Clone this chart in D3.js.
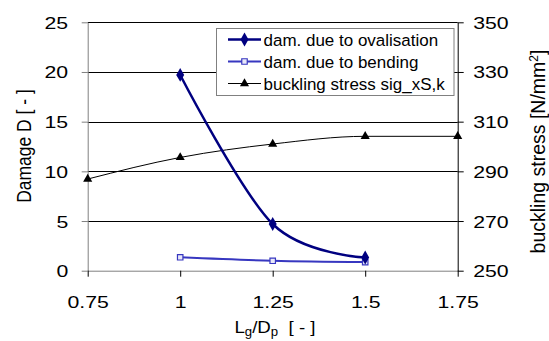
<!DOCTYPE html>
<html><head><meta charset="utf-8">
<script src="https://cdn.jsdelivr.net/npm/d3@7/dist/d3.min.js"></script>
<style>
html,body{margin:0;padding:0;background:#fff;}
svg{display:block;font-family:"Liberation Sans",Arial,sans-serif;}
</style></head>
<body><svg id="c" width="549" height="341"></svg>
<script>
// ---- data ----
const xTicks = [0.75, 1, 1.25, 1.5, 1.75];
const xTickLabels = ["0.75", "1", "1.25", "1.5", "1.75"];
const yLeftTicks = [0, 5, 10, 15, 20, 25];
const yRightTicks = [250, 270, 290, 310, 330, 350];
const ovalX = [1, 1.25, 1.5];
const ovalD = [19.7, 4.7, 1.33];
const bendX = [1, 1.25, 1.5];
const bendD = [1.35, 1.0, 0.87];
const buckX = [0.75, 1, 1.25, 1.5, 1.75];
const buckS = [286.9, 295.6, 301.0, 304.1, 304.1];
const seriesNames = ["dam. due to ovalisation", "dam. due to bending", "buckling stress sig_xS,k"];

// ---- layout ----
const L = 87.7, R = 457.7, T = 22.3, B = 270.7;
const svg = d3.select("#c");
const x = d3.scaleLinear().domain([0.75, 1.75]).range([L, R]);
const yL = d3.scaleLinear().domain([0, 25]).range([B, T]);
const yR = d3.scaleLinear().domain([250, 350]).range([B, T]);
const SX = 1.25; // horizontal stretch of tick labels

// gridlines
svg.append("g").selectAll("line").data(yLeftTicks.filter(d => d > 0)).join("line")
  .attr("x1", L).attr("x2", R).attr("y1", d => Math.round(yL(d)) + 0.5).attr("y2", d => Math.round(yL(d)) + 0.5)
  .attr("stroke", "#000").attr("stroke-width", 1);

// left axis
const gl = svg.append("g").attr("transform", `translate(${L},0)`)
  .call(d3.axisLeft(yL).tickValues(yLeftTicks).tickSize(6).tickSizeOuter(0).tickFormat(d3.format("d")));
gl.select(".domain").attr("stroke", "#808080");
gl.selectAll(".tick line").attr("stroke", "#808080");
gl.selectAll(".tick text").attr("x", 0).attr("dy", null).attr("text-anchor", "end")
  .attr("font-size", 17).attr("fill", "#000").attr("font-family", "Liberation Sans, Arial, sans-serif")
  .attr("transform", `translate(-19.5,6) scale(${SX},1)`);

// right axis
const gr = svg.append("g").attr("transform", `translate(${R},0)`)
  .call(d3.axisRight(yR).tickValues(yRightTicks).tickSize(6).tickSizeOuter(0).tickFormat(d3.format("d")));
gr.select(".domain").attr("stroke", "#000");
gr.selectAll(".tick line").attr("stroke", "#000");
gr.selectAll(".tick text").attr("x", 0).attr("dy", null).attr("text-anchor", "start")
  .attr("font-size", 17).attr("fill", "#000").attr("font-family", "Liberation Sans, Arial, sans-serif")
  .attr("transform", `translate(15.5,6) scale(${SX},1)`);

// bottom axis
const gb = svg.append("g").attr("transform", `translate(0,${B})`)
  .call(d3.axisBottom(x).tickValues(xTicks).tickSize(6).tickSizeOuter(0).tickFormat((d, i) => xTickLabels[i]));
gb.select(".domain").attr("stroke", "#808080");
gb.selectAll(".tick line").attr("stroke", "#000");
gb.selectAll(".tick text").attr("y", 0).attr("dy", null).attr("text-anchor", "middle")
  .attr("font-size", 17).attr("fill", "#000").attr("font-family", "Liberation Sans, Arial, sans-serif")
  .attr("transform", `translate(0,36.8) scale(${SX},1)`);

// axis titles
svg.append("text").attr("text-anchor", "middle").attr("font-size", 17.5)
  .attr("transform", `translate(31,146) rotate(-90) scale(1,1.15)`)
  .text("Damage D  [ - ]");

const rt = svg.append("text").attr("text-anchor", "middle").attr("font-size", 19.5)
  .attr("transform", `translate(545,151.5) rotate(-90) scale(1,1.05)`);
rt.append("tspan").text("buckling stress [N/mm");
rt.append("tspan").attr("font-size", 12).attr("dy", -7).text("2");
rt.append("tspan").attr("dy", 7).text("]");

const xt = svg.append("text").attr("text-anchor", "middle").attr("font-size", 17)
  .attr("transform", `translate(275,332.5) scale(1.1,1)`);
xt.append("tspan").text("L");
xt.append("tspan").attr("font-size", 12).attr("dy", 3.5).text("g");
xt.append("tspan").attr("dy", -3.5).text("/D");
xt.append("tspan").attr("font-size", 12).attr("dy", 3.5).text("p");
xt.append("tspan").attr("dy", -3.5).text("\u00a0\u00a0[ - ]");

// series
const curve = d3.curveCardinal.tension(0);
const lineL = d3.line().curve(curve);
const lineM = d3.line().curve(d3.curveMonotoneX);
const ovalPts = ovalX.map((v, i) => [x(v), yL(ovalD[i])]);
const bendPts = bendX.map((v, i) => [x(v), yL(bendD[i])]);
const buckPts = buckX.map((v, i) => [x(v), yR(buckS[i])]);

const cOval = "#000080", cBend = "#3737c0", cBuck = "#000";

svg.append("path").attr("d", lineM(buckPts)).attr("fill", "none").attr("stroke", cBuck).attr("stroke-width", 1);
svg.append("path").attr("d", lineM(bendPts)).attr("fill", "none").attr("stroke", cBend).attr("stroke-width", 2);
svg.append("path").attr("d", lineL(ovalPts)).attr("fill", "none").attr("stroke", cOval).attr("stroke-width", 2.5);

const tri = d3.symbol().type(d3.symbolTriangle).size(36);
const dia = d3.symbol().type(d3.symbolDiamond).size(55);
const sq = d3.symbol().type(d3.symbolSquare).size(30);

svg.append("g").selectAll("path").data(buckPts).join("path")
  .attr("transform", d => `translate(${d[0]},${d[1]})`).attr("d", tri).attr("fill", "#000");
svg.append("g").selectAll("path").data(bendPts).join("path")
  .attr("transform", d => `translate(${d[0]},${d[1]})`).attr("d", sq).attr("fill", "#e8e8f8").attr("stroke", cBend).attr("stroke-width", 1.2);
svg.append("g").selectAll("path").data(ovalPts).join("path")
  .attr("transform", d => `translate(${d[0]},${d[1]})`).attr("d", dia).attr("fill", cOval);

// legend
const lg = svg.append("g");
lg.append("rect").attr("x", 216.5).attr("y", 28.5).attr("width", 237.5).attr("height", 67)
  .attr("fill", "#fff").attr("stroke", "#808080").attr("stroke-width", 1);
const legY = [39.5, 61.5, 83.5];
const legColors = [cOval, cBend, cBuck];
const legWidths = [2.5, 2, 1];
seriesNames.forEach((name, i) => {
  lg.append("line").attr("x1", 228).attr("x2", 261).attr("y1", legY[i]).attr("y2", legY[i])
    .attr("stroke", legColors[i]).attr("stroke-width", legWidths[i]);
  const m = lg.append("path").attr("transform", `translate(244.5,${legY[i]})`);
  if (i === 0) m.attr("d", dia).attr("fill", cOval);
  else if (i === 1) m.attr("d", sq).attr("fill", "#e8e8f8").attr("stroke", cBend).attr("stroke-width", 1.2);
  else m.attr("d", tri).attr("fill", "#000");
  lg.append("text").attr("font-size", 16.5)
    .attr("transform", `translate(263.5,${legY[i] + 6}) scale(1.03,1)`).text(name);
});
</script></body></html>
